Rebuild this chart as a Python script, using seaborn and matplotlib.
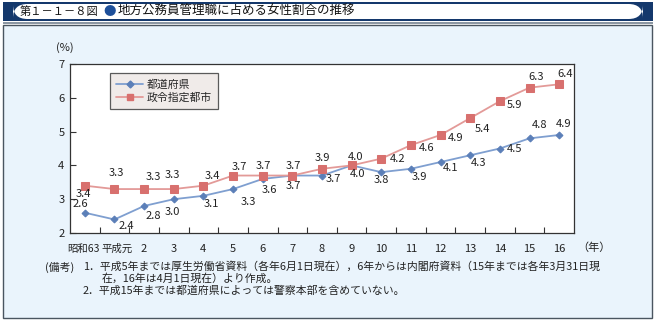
import matplotlib
matplotlib.use("Agg")
import matplotlib.pyplot as plt
from matplotlib.patches import FancyBboxPatch, Rectangle
from matplotlib.lines import Line2D
import matplotlib.transforms as mtransforms
import seaborn as sns
import pandas as pd

# ---- data ----
categories = ["昭和63", "平成元", "2", "3", "4", "5", "6", "7", "8",
              "9", "10", "11", "12", "13", "14", "15", "16"]
prefectures = [2.6, 2.4, 2.8, 3.0, 3.1, 3.3, 3.6, 3.7, 3.7, 4.0, 3.8, 3.9, 4.1, 4.3, 4.5, 4.8, 4.9]
cities = [3.4, 3.3, 3.3, 3.3, 3.4, 3.7, 3.7, 3.7, 3.9, 4.0, 4.2, 4.6, 4.9, 5.4, 5.9, 6.3, 6.4]
series_names = ["都道府県", "政令指定都市"]

# label offsets in pixels (dx, dy) - styling only
pref_off = [(-4, 9), (12, -7), (9, -10), (-1, -13), (8, -8), (15, -13), (7, -11), (1, -10), (11, -3),
            (6, -9), (0, -8), (8, -8), (10, -6), (8, -8), (15, 0), (10, 13), (4, 11)]
city_off = [(-1, -8), (2, 16), (9, 12), (-1, 14), (9, 10), (6, 9), (1, 10), (1, 10), (0, 11),
            (4, 8), (16, 0), (16, -3), (15, -3), (12, -11), (15, -4), (7, 11), (6, 10)]

sns.set_theme(style="white")
plt.rcParams['font.family'] = ['Noto Sans CJK JP', 'DejaVu Sans']

BLUE_L = "#7f9fd0"
BLUE_M = "#5b7fb8"
RED_L = "#e39a98"
RED_M = "#d8706e"
BG = "#eaf4fc"

df = pd.DataFrame({
    "x": list(range(len(categories))) * 2,
    "v": prefectures + cities,
    "s": [series_names[0]] * len(categories) + [series_names[1]] * len(categories),
})

fig = plt.figure(figsize=(6.56, 3.22), dpi=100)
fig.patch.set_facecolor("white")

# panel background
fig.patches.append(Rectangle((3 / 656, 4 / 322), 649 / 656, 293 / 322, transform=fig.transFigure,
                             facecolor=BG, edgecolor="#4a5560", linewidth=1.0, zorder=-10))
# title bar
fig.patches.append(Rectangle((3 / 656, 301 / 322), 650 / 656, 19 / 322, transform=fig.transFigure,
                             facecolor="#14386c", edgecolor="none", zorder=-9))
fig.patches.append(FancyBboxPatch((13 / 656, 303 / 322), 630 / 656, 15 / 322, transform=fig.transFigure,
                                  boxstyle="round,pad=0,rounding_size=0.022", mutation_aspect=2.0,
                                  facecolor="white", edgecolor="none", zorder=-8))
fig.patches.append(Rectangle((3 / 656, 298 / 322), 650 / 656, 2.5 / 322, transform=fig.transFigure,
                             facecolor="#8c97a3", edgecolor="none", zorder=-8))

fig.text(20 / 656, 310.5 / 322, "第１－１－８図", fontsize=8.1, va="center", ha="left", color="#111")
fig.text(110 / 656, 310.5 / 322, "●", fontsize=9, va="center", ha="center", color="#1d4f9a")
fig.text(118 / 656, 310.5 / 322, "地方公務員管理職に占める女性割合の推移", fontsize=9, va="center", ha="left",
         color="#111")

ax = fig.add_axes([70 / 656, 89 / 322, 504 / 656, 169 / 322])
ax.set_facecolor("white")

sns.lineplot(data=df, x="x", y="v", hue="s", style="s", ax=ax,
             palette={series_names[0]: BLUE_L, series_names[1]: RED_L},
             markers={series_names[0]: "D", series_names[1]: "s"},
             dashes=False, linewidth=1.3, legend=False)
for line, mc, ms in zip(ax.lines, [BLUE_M, RED_M], [3.5, 6]):
    line.set_markerfacecolor(mc)
    line.set_markeredgecolor(mc)
    line.set_markersize(ms)

for i, (v, off) in enumerate(zip(prefectures, pref_off)):
    ax.annotate(f"{v:.1f}", (i, v), xytext=off, textcoords="offset pixels",
                ha="center", va="center", fontsize=8, color="#222")
for i, (v, off) in enumerate(zip(cities, city_off)):
    ax.annotate(f"{v:.1f}", (i, v), xytext=off, textcoords="offset pixels",
                ha="center", va="center", fontsize=8, color="#222")

ax.set_xlim(-0.5, len(categories) - 0.5)
ax.set_ylim(2, 7)
ax.set_xticks(range(len(categories)))
ax.set_xticklabels(categories)
ax.set_xticks([i + 0.5 for i in range(len(categories) - 1)], minor=True)
ax.set_yticks([2, 3, 4, 5, 6, 7])
ax.tick_params(axis="x", which="major", length=0, pad=8, labelsize=8, colors="#222")
ax.tick_params(axis="x", which="minor", direction="in", length=4, width=0.8, color="#333", bottom=True)
ax.tick_params(axis="y", which="major", direction="in", length=4, width=0.8, color="#333",
               left=True, pad=4, labelsize=8, labelcolor="#222")
# the two era-name labels are wider than a category: shrink and nudge them apart
xt = ax.get_xticklabels()
for lab, dx in [(xt[0], -1), (xt[1], 3)]:
    lab.set_fontsize(7.5)
    lab.set_transform(lab.get_transform() + mtransforms.ScaledTranslation(dx / 100, 0, fig.dpi_scale_trans))
ax.set_xlabel("")
ax.set_ylabel("")
for sp in ax.spines.values():
    sp.set_color("#333")
    sp.set_linewidth(0.9)

ax.text(-0.01, 1.10, "(%)", transform=ax.transAxes, fontsize=8, ha="center", va="center", color="#222")
ax.text(1.04, -0.085, "（年）", transform=ax.transAxes, fontsize=8, ha="center", va="center", color="#222")

# legend
handles = [Line2D([0], [0], color=BLUE_L, marker="D", markersize=3.5, markerfacecolor=BLUE_M,
                  markeredgecolor=BLUE_M, lw=1.3),
           Line2D([0], [0], color=RED_L, marker="s", markersize=5, markerfacecolor=RED_M,
                  markeredgecolor=RED_M, lw=1.3)]
leg = ax.legend(handles, series_names, loc="upper left", bbox_to_anchor=(0.079, 0.947),
                borderaxespad=0, fontsize=7.8, frameon=True, fancybox=False, handlelength=2.5,
                borderpad=0.6, labelspacing=0.25, handletextpad=0.3)
leg.get_frame().set_facecolor("#ede7e4")
leg.get_frame().set_edgecolor("#333")
leg.get_frame().set_linewidth(0.9)

# footnotes
fs = 7.8
fig.text(45 / 656, 55 / 322, "(備考)", fontsize=fs, ha="left", va="center", color="#222")
fig.text(83 / 656, 55 / 322,
         "1．平成5年までは厚生労働省資料（各年6月1日現在），6年からは内閣府資料（15年までは各年3月31日現",
         fontsize=fs, ha="left", va="center", color="#222")
fig.text(102 / 656, 43 / 322, "在，16年は4月1日現在）より作成。", fontsize=fs, ha="left", va="center", color="#222")
fig.text(83 / 656, 31 / 322, "2．平成15年までは都道府県によっては警察本部を含めていない。",
         fontsize=fs, ha="left", va="center", color="#222")

fig.savefig("out.png", dpi=100, facecolor=fig.get_facecolor())
